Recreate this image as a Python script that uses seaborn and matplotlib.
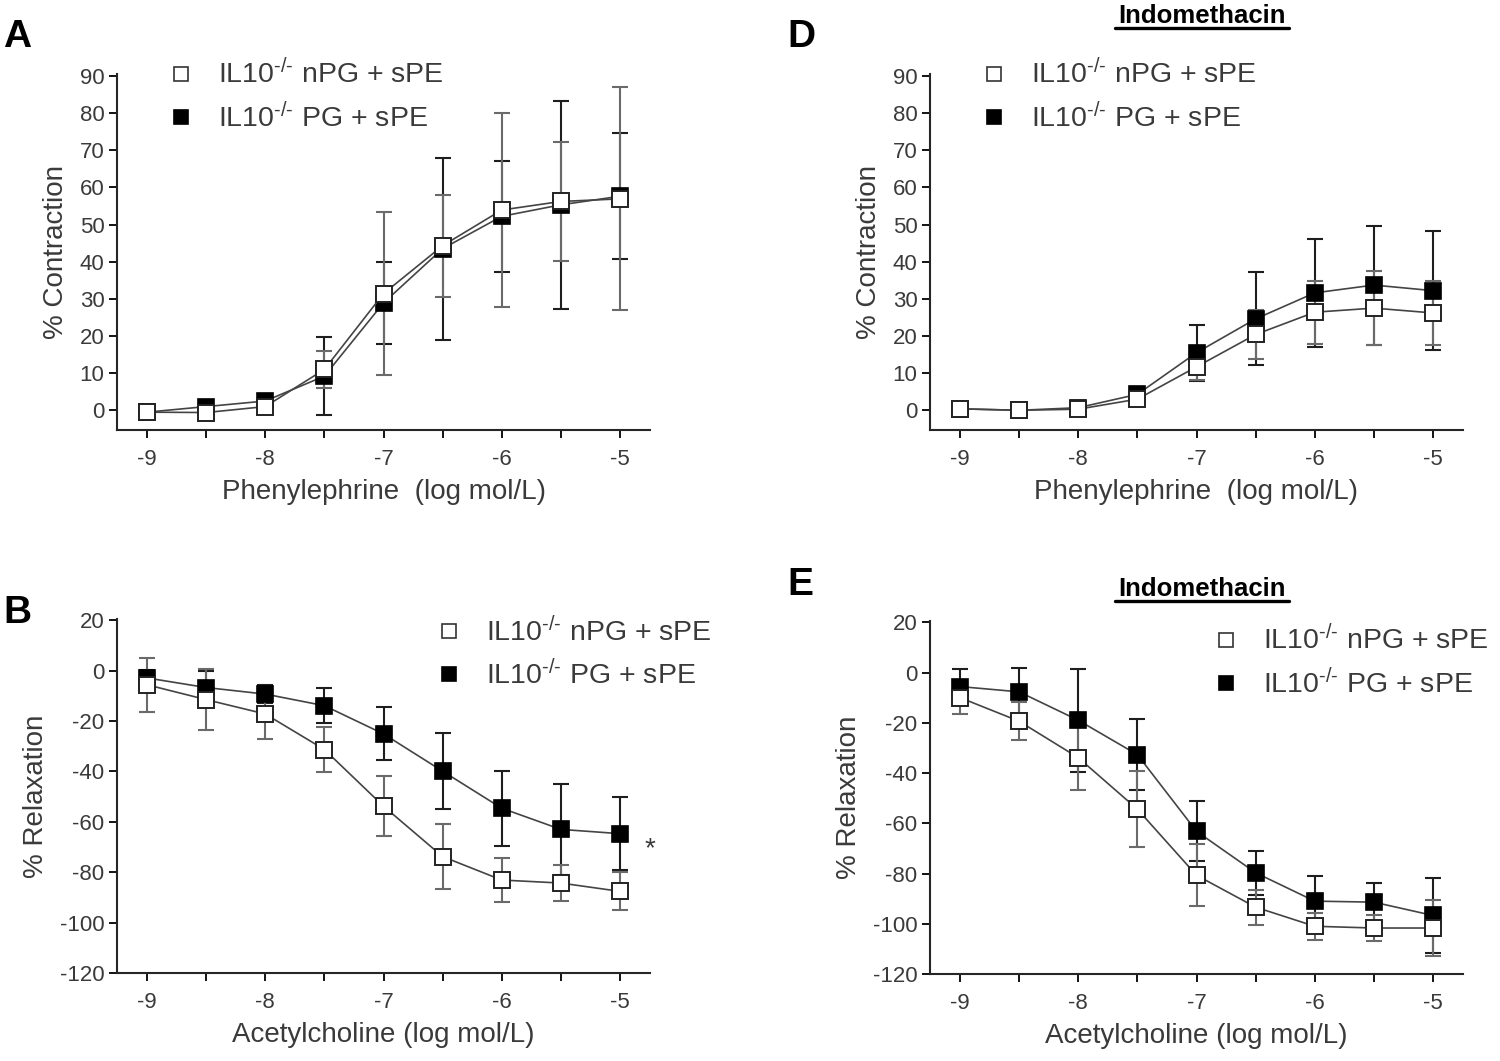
import pandas as pd
import seaborn as sns
import matplotlib.pyplot as plt
from matplotlib.lines import Line2D

# log concentrations (mol/L)
conc = [-9, -8.5, -8, -7.5, -7, -6.5, -6, -5.5, -5]

# A: phenylephrine, no indomethacin
a_npg = [-0.5, -0.6, 1.0, 11.0, 31.4, 44.3, 53.9, 56.2, 56.9]
a_npg_sem = [0.5, 0.5, 1.0, 5.0, 22.0, 13.7, 26.0, 16.0, 30.0]
a_pg = [-0.5, 1.0, 2.5, 9.2, 28.9, 43.5, 52.2, 55.3, 57.6]
a_pg_sem = [0.5, 0.5, 1.0, 10.5, 11.0, 24.5, 15.0, 28.0, 17.0]

# D: phenylephrine + indomethacin
d_npg = [0.4, 0.0, 0.3, 3.0, 11.7, 20.4, 26.4, 27.5, 26.2]
d_npg_sem = [0.5, 0.3, 0.5, 1.5, 3.5, 6.5, 8.5, 10.0, 8.5]
d_pg = [0.4, 0.0, 0.7, 4.3, 15.5, 24.6, 31.6, 33.7, 32.2]
d_pg_sem = [0.5, 0.3, 0.5, 1.5, 7.5, 12.5, 14.5, 16.0, 16.0]

# B: acetylcholine, no indomethacin
b_npg = [-5.6, -11.5, -17.2, -31.3, -53.8, -73.8, -83.1, -84.3, -87.6]
b_npg_sem = [10.8, 12.0, 10.0, 9.0, 12.0, 13.0, 8.7, 7.0, 7.5]
b_pg = [-2.9, -6.7, -9.3, -13.9, -25.1, -39.9, -54.6, -63.0, -64.7]
b_pg_sem = [3.0, 6.5, 3.5, 7.0, 10.5, 15.2, 14.8, 18.0, 14.5]

# E: acetylcholine + indomethacin
e_npg = [-10.0, -19.4, -33.9, -54.4, -80.7, -93.4, -101.0, -101.7, -101.7]
e_npg_sem = [6.7, 7.5, 13.0, 15.0, 12.3, 7.0, 5.3, 5.0, 11.0]
e_pg = [-5.6, -7.7, -19.0, -32.7, -63.2, -79.7, -91.0, -91.4, -96.7]
e_pg_sem = [6.8, 9.5, 20.5, 14.0, 12.0, 8.7, 10.0, 7.7, 15.0]

labels = [r"IL10$^{\text{-/-}}$ nPG + sPE", r"IL10$^{\text{-/-}}$ PG + sPE"]

sns.set_style("ticks")
plt.rcParams["font.family"] = ["Liberation Sans", "DejaVu Sans"]
plt.rcParams["mathtext.fontset"] = "custom"
plt.rcParams["mathtext.rm"] = "Liberation Sans"
plt.rcParams["mathtext.default"] = "rm"

W, H = 1500, 1061
TXT = "#3a3a3a"
fig = plt.figure(figsize=(W / 100, H / 100), dpi=100)


def px_rect(x0, y0, x1, y1):
    return [x0 / W, 1 - y1 / H, (x1 - x0) / W, (y1 - y0) / H]


def panel(rect, npg, npg_sem, pg, pg_sem, ylim, yticks, ylabel, xlabel, leg_xy):
    ax = fig.add_axes(rect)
    df = pd.DataFrame({
        "conc": conc * 2,
        "val": npg + pg,
        "group": ["nPG"] * len(conc) + ["PG"] * len(conc),
    })
    ax.errorbar(conc, pg, yerr=pg_sem, fmt="none", ecolor="#1e1e1e",
                elinewidth=1.5, capsize=6, capthick=1.5, zorder=2)
    ax.errorbar(conc, npg, yerr=npg_sem, fmt="none", ecolor="#6a6a6a",
                elinewidth=1.5, capsize=6, capthick=1.5, zorder=2)
    sns.lineplot(data=df[df.group == "PG"], x="conc", y="val", ax=ax,
                 color="#444444", linewidth=1.2, marker="s", markersize=12,
                 markerfacecolor="black", markeredgecolor="black",
                 markeredgewidth=1.2, errorbar=None, legend=False, zorder=3)
    sns.lineplot(data=df[df.group == "nPG"], x="conc", y="val", ax=ax,
                 color="#444444", linewidth=1.2, marker="s", markersize=12,
                 markerfacecolor="white", markeredgecolor="#222222",
                 markeredgewidth=1.4, errorbar=None, legend=False, zorder=4)

    ax.set_xlim(-9.254, -4.746)
    ax.set_ylim(*ylim)
    xt = [-9, -8.5, -8, -7.5, -7, -6.5, -6, -5.5, -5]
    ax.set_xticks(xt, [f"{v:g}" if v == int(v) else "" for v in xt])
    ax.set_yticks(yticks, [f"{v:g}" for v in yticks])
    ax.tick_params(length=6, width=1.3, labelsize=16, colors="black",
                   labelcolor=TXT, pad=3)
    ax.tick_params(axis="x", pad=8)
    for s in ["top", "right"]:
        ax.spines[s].set_visible(False)
    for s in ["left", "bottom"]:
        ax.spines[s].set_linewidth(1.5)
    ax.set_xlabel(xlabel, fontsize=20, color=TXT, labelpad=6)
    ax.set_ylabel(ylabel, fontsize=20, color=TXT, labelpad=8)

    handles = [
        Line2D([], [], marker="s", ls="none", markersize=10,
               markerfacecolor="white", markeredgecolor="#333333", markeredgewidth=1.2),
        Line2D([], [], marker="s", ls="none", markersize=10,
               markerfacecolor="black", markeredgecolor="black", markeredgewidth=1.2),
    ]
    mx, my = leg_xy
    ax.legend(handles, labels, loc="upper left",
              bbox_to_anchor=((mx - 13) / W, 1 - (my - 16) / H),
              bbox_transform=fig.transFigure, frameon=False, borderpad=0,
              borderaxespad=0, handlelength=1.0, handletextpad=0.8,
              labelspacing=0.45, fontsize=20.5, labelcolor=TXT)
    return ax


pe_ticks = list(range(0, 91, 10))
ach_ticks = list(range(-120, 21, 20))

panel(px_rect(117, 74, 650, 430), a_npg, a_npg_sem, a_pg, a_pg_sem,
      (-5.3, 90.5), pe_ticks, "% Contraction", "Phenylephrine  (log mol/L)", (180, 75))
panel(px_rect(930, 74, 1463, 430), d_npg, d_npg_sem, d_pg, d_pg_sem,
      (-5.3, 90.5), pe_ticks, "% Contraction", "Phenylephrine  (log mol/L)", (993, 75))
axb = panel(px_rect(117, 619, 650, 973), b_npg, b_npg_sem, b_pg, b_pg_sem,
            (-120, 20.5), ach_ticks, "% Relaxation", "Acetylcholine (log mol/L)", (448, 632))
panel(px_rect(930, 621, 1463, 974), e_npg, e_npg_sem, e_pg, e_pg_sem,
      (-120, 20.5), ach_ticks, "% Relaxation", "Acetylcholine (log mol/L)", (1225, 641))

axb.text(1.0, 0.35, "*", transform=axb.transAxes, fontsize=20, color=TXT,
         ha="center", va="center")

for letter, (x, y) in {"A": (3, 47), "B": (3, 623), "D": (787, 47), "E": (787, 595)}.items():
    fig.text(x / W, 1 - y / H, letter, fontsize=28, fontweight="bold",
             family="Liberation Sans", color="black", ha="left", va="baseline")

for y in (23, 596):
    fig.text(1202 / W, 1 - y / H, "Indomethacin", fontsize=18.5, fontweight="bold",
             family="Liberation Sans", color="black", ha="center", va="baseline")
    fig.add_artist(Line2D([1115 / W, 1289 / W], [1 - (y + 5) / H] * 2,
                          color="black", lw=2.4))

fig.savefig("out.png", dpi=100)
